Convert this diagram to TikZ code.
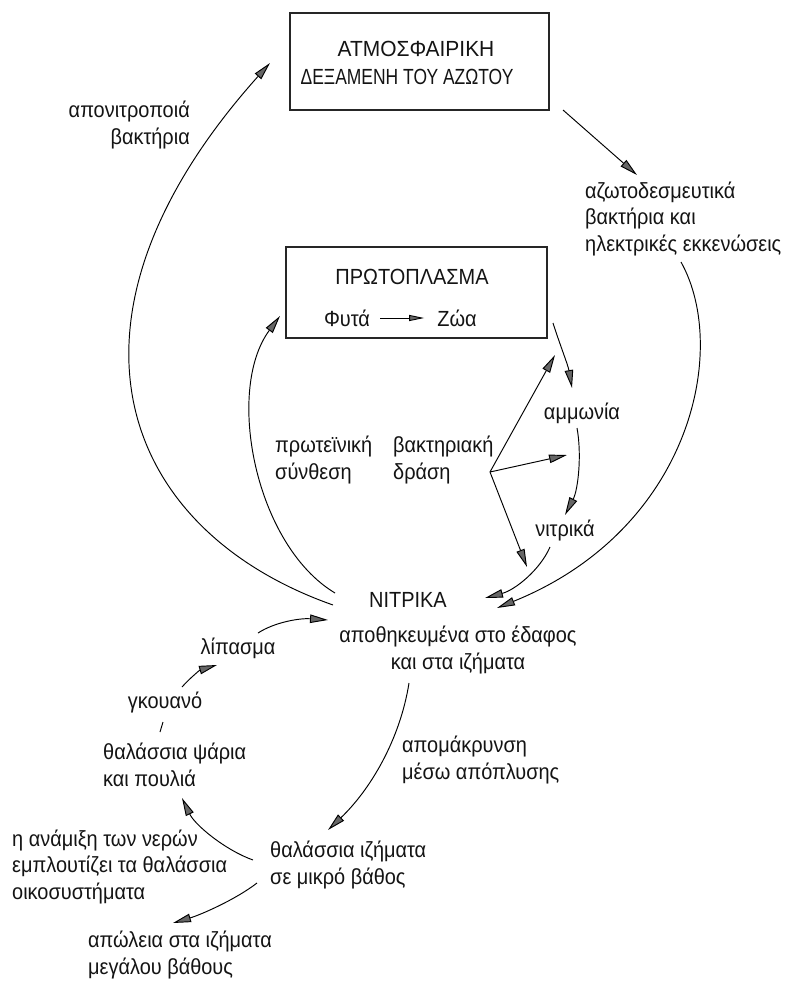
\documentclass[tikz,border=0pt]{standalone}
\usepackage{fontspec}
\setmainfont{Liberation Sans}[FakeStretch=0.91]
\usetikzlibrary{arrows.meta}
\begin{document}
\begin{tikzpicture}[x=1bp,y=-1bp,
  txt/.style={font=\fontsize{22}{26.5}\selectfont, inner sep=0pt, text=black!92},
  caps/.style={font=\fontsize{22}{27}\selectfont, inner sep=0pt, text=black!92},
  box/.style={draw=black!85, line width=1.1bp},
  tip/.style={-{Triangle[length=18bp,width=8.5bp,fill=black!60]}},
  flow/.style={line width=0.95bp, tip},
  plain/.style={line width=0.95bp}]
\useasboundingbox[fill=white] (0,0) rectangle (787,981);

% reservoirs
\node[box, minimum width=259bp, minimum height=97bp] (atm) at (419.5,61.5) {};
\node[caps] (atmtxtA) at (416,49) {\scalebox{1.05}[1]{ΑΤΜΟΣΦΑΙΡΙΚΗ}};
\node[caps] (atmtxtB) at (407,77) {\scalebox{0.875}[1]{ΔΕΞΑΜΕΝΗ ΤΟΥ ΑΖΩΤΟΥ}};
\node[box, minimum width=261bp, minimum height=91bp] (proto) at (416.5,292.5) {};
\node[caps] (prototxt) at (412,277) {ΠΡΩΤΟΠΛΑΣΜΑ};
\node[txt] (fyta) at (347,318) {Φυτά};
\node[txt] (zoa) at (457,318) {Ζώα};
\draw[line width=0.9bp, -{Triangle[length=15bp,width=6bp,fill=black!60]}]
  ([xshift=10bp]fyta.east) -- ([xshift=-13bp]zoa.west);

% labels
\node[txt, align=right, anchor=east] (denit) at (190,125) {απονιτροποιά\\βακτήρια};
\node[txt, align=left, anchor=west] (fix) at (585,219) {αζωτοδεσμευτικά\\βακτήρια και\\ηλεκτρικές εκκενώσεις};
\node[txt, align=left, anchor=west] (synth) at (275,460) {πρωτεϊνική\\σύνθεση};
\node[txt, align=left, anchor=west] (bact) at (393,460) {βακτηριακή\\δράση};
\node[txt] (amm) at (582,413) {αμμωνία};
\node[txt] (nitr) at (565,531) {νιτρικά};
\node[caps] (NITR) at (408,600) {ΝΙΤΡΙΚΑ};
\node[txt, align=center] (store) at (458,650) {αποθηκευμένα στο έδαφος\\και στα ιζήματα};
\node[txt, align=left, anchor=west] (wash) at (402,760) {απομάκρυνση\\μέσω απόπλυσης};
\node[txt, align=left, anchor=west] (shallow) at (270,865) {θαλάσσια ιζήματα\\σε μικρό βάθος};
\node[txt, align=left, anchor=west] (mix) at (12,867) {η ανάμιξη των νερών\\εμπλουτίζει τα θαλάσσια\\οικοσυστήματα};
\node[txt, align=left, anchor=west] (deep) at (88,955) {απώλεια στα ιζήματα\\μεγάλου βάθους};
\node[txt, align=left, anchor=west] (fish) at (103,765) {θαλάσσια ψάρια\\και πουλιά};
\node[txt] (guano) at (165,703) {γκουανό};
\node[txt] (fert) at (238,648) {λίπασμα};

% connector end points
\coordinate (nOutL) at (333,605);
\coordinate (nInL)  at (335,593);
\coordinate (atmIn) at (270,63);
\coordinate (protoIn) at (280,316);
\coordinate (atmOut) at (563,110);
\coordinate (fixIn) at (637,175);
\coordinate (fixOut) at (681,262);
\coordinate (nR1) at (497,608);
\coordinate (nR2) at (485,598);
\coordinate (protoOut) at (553,323);
\coordinate (ammIn) at (572,388);
\coordinate (ammOut) at (577,428);
\coordinate (nitrIn) at (565,515);
\coordinate (nitrOut) at (550,547);
\coordinate (bactO) at (490,472);
\coordinate (bactA) at (555,355);
\coordinate (bactB) at (567,455);
\coordinate (bactC) at (527,567);
\coordinate (storeOut) at (409,683);
\coordinate (shallowIn) at (328,830);
\coordinate (shallowA) at (253,860);
\coordinate (fishIn) at (182,798);
\coordinate (shallowB) at (257,883);
\coordinate (deepIn) at (173,923);
\coordinate (fishTop) at (160,732);
\coordinate (guanoBot) at (163,722);
\coordinate (guanoOut) at (182,687);
\coordinate (fertIn) at (217,665);
\coordinate (fertOut) at (258,633);
\coordinate (nLipIn) at (328,620);

% nitrogen cycle
\draw[flow] (nOutL) .. controls (120,530) and (40,320) .. (atmIn);
\draw[flow] (nInL) .. controls (255,545) and (225,390) .. (protoIn);
\draw[flow] (atmOut) -- (fixIn);
\draw[flow] (fixOut) .. controls (730,350) and (690,530) .. (nR1);
\draw[flow] (protoOut) .. controls (560,345) and (568,365) .. (ammIn);
\draw[flow] (ammOut) .. controls (582,455) and (578,490) .. (nitrIn);
\draw[flow] (nitrOut) .. controls (540,570) and (515,590) .. (nR2);
\draw[flow] (bactO) -- (bactA);
\draw[flow] (bactO) -- (bactB);
\draw[flow] (bactO) -- (bactC);
\draw[flow] (storeOut) .. controls (400,740) and (370,790) .. (shallowIn);
\draw[flow] (shallowA) .. controls (225,850) and (195,825) .. (fishIn);
\draw[flow] (shallowB) .. controls (235,900) and (200,915) .. (deepIn);
\draw[plain] (fishTop) -- (guanoBot);
\draw[flow] (guanoOut) .. controls (190,678) and (200,670) .. (fertIn);
\draw[flow] (fertOut) .. controls (275,622) and (300,618) .. (nLipIn);
\end{tikzpicture}
\end{document}
